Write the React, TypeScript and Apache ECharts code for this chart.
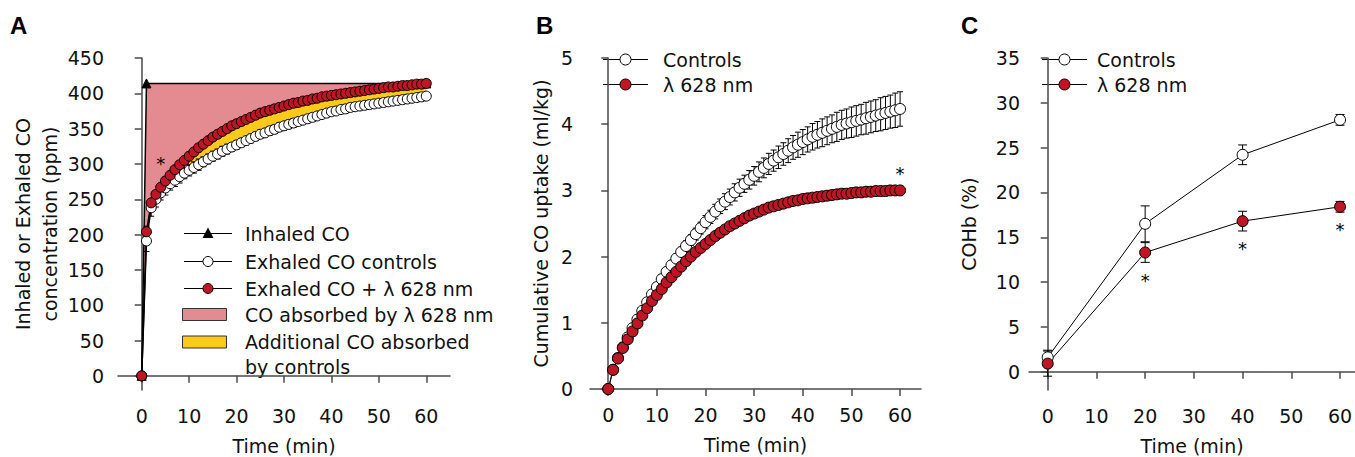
import React, { useEffect, useRef } from "react";
import * as echarts from "echarts";

// ---------- DATA ----------
const minutes = [
  0, 1, 2, 3, 4, 5, 6, 7, 8, 9,
  10, 11, 12, 13, 14, 15, 16, 17, 18, 19,
  20, 21, 22, 23, 24, 25, 26, 27, 28, 29,
  30, 31, 32, 33, 34, 35, 36, 37, 38, 39,
  40, 41, 42, 43, 44, 45, 46, 47, 48, 49,
  50, 51, 52, 53, 54, 55, 56, 57, 58, 59, 60,
];

// Panel A (ppm)
const inhaledTime = [0, 1, 60];
const inhaledCO = [0, 414, 414];
const exhaledControlsA = [
  0, 191, 238, 250, 259, 266, 272, 277, 282, 287,
  291, 295, 299, 303, 307, 311, 314, 318, 321, 324,
  327, 330, 333, 336, 339, 342, 344, 347, 349, 352,
  354, 356, 358, 360, 362, 364, 366, 368, 370, 372,
  374, 375, 377, 378, 380, 381, 382, 383, 384, 385,
  386, 387, 388, 389, 390, 391, 392, 393, 394, 395, 396,
];
const exhaledControlsAErr = [
  0, 15, 12, 11, 10, 10, 9, 9, 9, 8,
  8, 8, 8, 7, 7, 7, 7, 7, 7, 6,
  6, 6, 6, 6, 6, 6, 6, 6, 6, 6,
  6, 6, 6, 5, 5, 5, 5, 5, 5, 5,
  5, 5, 5, 5, 5, 5, 5, 5, 5, 5,
  5, 5, 5, 5, 5, 5, 5, 5, 5, 5, 5,
];
const exhaled628A = [
  0, 204, 245, 257, 267, 276, 284, 292, 299, 305,
  311, 317, 323, 328, 333, 338, 342, 346, 350, 354,
  357, 360, 363, 366, 369, 372, 374, 376, 378, 380,
  382, 384, 386, 387, 389, 390, 392, 393, 395, 396,
  397, 398, 399, 400, 401, 402, 403, 404, 405, 406,
  407, 408, 409, 409, 410, 411, 411, 412, 413, 413, 414,
];
const exhaled628AErr = [
  0, 8, 6, 5, 5, 5, 4, 4, 4, 4,
  4, 4, 4, 4, 4, 4, 4, 4, 4, 4,
  4, 4, 4, 4, 4, 4, 4, 4, 4, 4,
  4, 4, 4, 4, 4, 4, 4, 4, 4, 4,
  4, 4, 4, 4, 4, 4, 4, 4, 4, 4,
  4, 4, 4, 4, 4, 4, 4, 4, 4, 4, 4,
];

// Panel B (ml/kg)
const uptakeControls = [
  0, 0.29, 0.47, 0.63, 0.78, 0.92, 1.05, 1.18, 1.31, 1.43,
  1.54, 1.66, 1.77, 1.87, 1.97, 2.07, 2.16, 2.25, 2.34, 2.43,
  2.52, 2.6, 2.68, 2.76, 2.83, 2.9, 2.97, 3.04, 3.1, 3.16,
  3.22, 3.28, 3.34, 3.4, 3.45, 3.5, 3.55, 3.6, 3.65, 3.69,
  3.73, 3.77, 3.81, 3.84, 3.87, 3.9, 3.93, 3.96, 3.99, 4.01,
  4.03, 4.05, 4.07, 4.09, 4.11, 4.13, 4.15, 4.17, 4.19, 4.21, 4.23,
];
const uptakeControlsErr = [
  0, 0.01, 0.02, 0.02, 0.03, 0.03, 0.03, 0.04, 0.04, 0.04,
  0.05, 0.05, 0.06, 0.06, 0.07, 0.07, 0.08, 0.08, 0.09, 0.09,
  0.1, 0.1, 0.11, 0.11, 0.12, 0.12, 0.13, 0.13, 0.13, 0.14,
  0.14, 0.15, 0.15, 0.16, 0.16, 0.17, 0.17, 0.18, 0.18, 0.19,
  0.19, 0.19, 0.2, 0.2, 0.21, 0.21, 0.21, 0.22, 0.22, 0.22,
  0.23, 0.23, 0.23, 0.24, 0.24, 0.24, 0.25, 0.25, 0.25, 0.26, 0.26,
];
const uptake628 = [
  0, 0.29, 0.46, 0.62, 0.75, 0.87, 0.99, 1.11, 1.22, 1.33,
  1.42, 1.51, 1.61, 1.69, 1.77, 1.85, 1.93, 2.0, 2.07, 2.13,
  2.19, 2.25, 2.31, 2.36, 2.41, 2.46, 2.5, 2.54, 2.58, 2.62,
  2.65, 2.68, 2.71, 2.74, 2.76, 2.78, 2.8, 2.82, 2.84, 2.85,
  2.87, 2.88, 2.89, 2.9, 2.91, 2.92, 2.93, 2.94, 2.95, 2.95,
  2.96, 2.97, 2.97, 2.98, 2.98, 2.99, 2.99, 2.99, 3.0, 3.0, 3.0,
];
const uptake628Err = [
  0, 0.01, 0.01, 0.01, 0.02, 0.02, 0.02, 0.02, 0.02, 0.03,
  0.03, 0.03, 0.03, 0.03, 0.03, 0.04, 0.04, 0.04, 0.04, 0.04,
  0.04, 0.04, 0.05, 0.05, 0.05, 0.05, 0.05, 0.05, 0.05, 0.05,
  0.05, 0.05, 0.06, 0.06, 0.06, 0.06, 0.06, 0.06, 0.06, 0.06,
  0.06, 0.06, 0.06, 0.06, 0.07, 0.07, 0.07, 0.07, 0.07, 0.07,
  0.07, 0.07, 0.07, 0.07, 0.07, 0.07, 0.07, 0.07, 0.07, 0.07, 0.07,
];

// Panel C (%)
const cohbTime = [0, 20, 40, 60];
const cohbControls = [1.6, 16.5, 24.2, 28.1];
const cohbControlsErr = [0.8, 2.0, 1.1, 0.6];
const cohb628 = [0.9, 13.3, 16.8, 18.4];
const cohb628Err = [1.4, 1.1, 1.1, 0.6];

// Significance marks [time, value position]
const starsA = [[4, 300]];
const starsB = [[60, 3.26]];
const starsC = [[20, 10.2], [40, 13.8], [60, 15.9]];

// Ticks
const timeTicks = [0, 10, 20, 30, 40, 50, 60];
const ticksA = [0, 50, 100, 150, 200, 250, 300, 350, 400, 450];
const ticksB = [0, 1, 2, 3, 4, 5];
const ticksC = [0, 5, 10, 15, 20, 25, 30, 35];

// ---------- STYLE ----------
const FONT = "DejaVu Sans";
const FS = 19;
const RED = "#BE1622";
const PINK = "#E48A91";
const YELLOW = "#FDC91B";
const AXIS = "#4a4a4a";

const zip2 = (xs: number[], ys: number[]) => xs.map((x, i) => [x, ys[i]]);
const zip3 = (xs: number[], ys: number[], es: number[]) =>
  xs.map((x, i) => [x, ys[i], es[i]]);

function errRender(cap: number) {
  return (params: any, api: any) => {
    const x = api.value(0);
    const y = api.value(1);
    const e = api.value(2);
    if (!e) return null;
    const top = api.coord([x, y + e]);
    const bot = api.coord([x, y - e]);
    const style = { stroke: "#000", lineWidth: 1, fill: "none" };
    return {
      type: "group",
      children: [
        { type: "line", shape: { x1: top[0], y1: top[1], x2: bot[0], y2: bot[1] }, style },
        { type: "line", shape: { x1: top[0] - cap, y1: top[1], x2: top[0] + cap, y2: top[1] }, style },
        { type: "line", shape: { x1: bot[0] - cap, y1: bot[1], x2: bot[0] + cap, y2: bot[1] }, style },
      ],
    };
  };
}

function starRender(params: any, api: any) {
  const p = api.coord([api.value(0), api.value(1)]);
  return {
    type: "text",
    x: p[0],
    y: p[1],
    style: {
      text: "*",
      fontSize: 18,
      fontFamily: FONT,
      fill: "#000",
      stroke: "none",
      align: "center",
      verticalAlign: "middle",
    },
  };
}

function starSeries(i: number, data: number[][]) {
  return {
    type: "custom",
    xAxisIndex: i,
    yAxisIndex: i,
    data,
    renderItem: starRender,
    itemStyle: { color: "#000" },
    z: 4,
    silent: true,
  };
}

function xAxisCfg(gridIndex: number, min: number, max: number) {
  return {
    type: "value",
    gridIndex,
    min,
    max,
    name: "Time (min)",
    nameLocation: "middle",
    nameGap: 46,
    nameTextStyle: { fontFamily: FONT, fontSize: FS, color: "#111" },
    axisLine: { show: true, lineStyle: { color: AXIS, width: 1.5 } },
    axisTick: { show: true, length: 7, lineStyle: { color: AXIS, width: 1.5 }, customValues: timeTicks },
    axisLabel: { fontFamily: FONT, fontSize: FS, color: "#111", margin: 16, customValues: timeTicks },
    splitLine: { show: false },
  };
}

function yAxisCfg(
  gridIndex: number,
  min: number,
  max: number,
  ticks: number[],
  name: string,
  nameGap: number,
  labelMargin: number
) {
  return {
    type: "value",
    gridIndex,
    min,
    max,
    name,
    nameLocation: "middle",
    nameGap,
    nameTextStyle: { fontFamily: FONT, fontSize: FS, color: "#111", lineHeight: 27 },
    axisLine: { show: true, lineStyle: { color: AXIS, width: 1.5 } },
    axisTick: { show: true, length: 7, lineStyle: { color: AXIS, width: 1.5 }, customValues: ticks },
    axisLabel: { fontFamily: FONT, fontSize: FS, color: "#111", margin: labelMargin, customValues: ticks },
    splitLine: { show: false },
  };
}

function lineSeries(
  xi: number,
  data: number[][],
  fill: string,
  size: number,
  symbol = "circle",
  lineWidth = 1
) {
  return {
    type: "line",
    xAxisIndex: xi,
    yAxisIndex: xi,
    data,
    symbol,
    symbolSize: size,
    showSymbol: true,
    showAllSymbol: true,
    lineStyle: { color: "#000", width: lineWidth },
    itemStyle: { color: fill, borderColor: "#000", borderWidth: 1 },
    emphasis: { disabled: true },
    z: 3,
  };
}

function legendText(x: number, y: number, text: string) {
  return {
    type: "text",
    x,
    y,
    style: { text, fontFamily: FONT, fontSize: FS, fill: "#111", verticalAlign: "middle", align: "left" },
  };
}
function legendLineMarker(x1: number, x2: number, y: number, fill: string, r: number) {
  return [
    { type: "line", shape: { x1, y1: y, x2, y2: y }, style: { stroke: "#000", lineWidth: 1 } },
    { type: "circle", shape: { cx: (x1 + x2) / 2, cy: y, r }, style: { fill, stroke: "#000", lineWidth: 1 } },
  ];
}

export default function App() {
  const ref = useRef<HTMLDivElement>(null);

  useEffect(() => {
    document.body.style.margin = "0";
    if (!ref.current) return;
    const chart = echarts.init(ref.current, undefined, { renderer: "svg" });

    const option: any = {
      animation: false,
      backgroundColor: "#fff",
      grid: [
        { left: 118, top: 58, width: 332, height: 332, outerBoundsMode: "none", containLabel: false },
        { left: 590, top: 58, width: 331, height: 331, outerBoundsMode: "none", containLabel: false },
        { left: 1029, top: 58, width: 326, height: 332, outerBoundsMode: "none", containLabel: false },
      ],
      xAxis: [xAxisCfg(0, -5, 65), xAxisCfg(1, -3.75, 64.3), xAxisCfg(2, -3.84, 63.07)],
      yAxis: [
        yAxisCfg(0, -20, 450, ticksA, "Inhaled or Exhaled CO\nconcentration (ppm)", 54, 14),
        yAxisCfg(1, 0, 5, ticksB, "Cumulative CO uptake (ml/kg)", 36, 17),
        yAxisCfg(2, -2.04, 35, ticksC, "COHb (%)", 47, 9),
      ],
      series: [
        // ---- Panel A fills ----
        {
          type: "custom",
          xAxisIndex: 0,
          yAxisIndex: 0,
          data: [[0, 0]],
          z: 1,
          silent: true,
          renderItem: (params: any, api: any) => {
            const pts: number[][] = [];
            inhaledTime.forEach((t, i) => pts.push(api.coord([t, inhaledCO[i]])));
            for (let i = minutes.length - 1; i >= 0; i--) pts.push(api.coord([minutes[i], exhaled628A[i]]));
            return { type: "polygon", shape: { points: pts }, style: { fill: PINK } };
          },
        },
        {
          type: "custom",
          xAxisIndex: 0,
          yAxisIndex: 0,
          data: [[0, 0]],
          z: 1,
          silent: true,
          renderItem: (params: any, api: any) => {
            const pts: number[][] = [];
            minutes.forEach((t, i) => pts.push(api.coord([t, exhaled628A[i]])));
            for (let i = minutes.length - 1; i >= 0; i--) pts.push(api.coord([minutes[i], exhaledControlsA[i]]));
            return { type: "polygon", shape: { points: pts }, style: { fill: YELLOW } };
          },
        },
        // inhaled
        lineSeries(0, zip2(inhaledTime, inhaledCO), "#000", 9, "triangle", 1.5),
        // error bars A
        {
          type: "custom",
          xAxisIndex: 0,
          yAxisIndex: 0,
          data: zip3(minutes, exhaledControlsA, exhaledControlsAErr),
          renderItem: errRender(3),
          z: 2,
          silent: true,
        },
        lineSeries(0, zip2(minutes, exhaledControlsA), "#fff", 10, "circle", 1.5),
        {
          type: "custom",
          xAxisIndex: 0,
          yAxisIndex: 0,
          data: zip3(minutes, exhaled628A, exhaled628AErr),
          renderItem: errRender(3),
          z: 2,
          silent: true,
        },
        lineSeries(0, zip2(minutes, exhaled628A), RED, 10, "circle", 1.5),
        starSeries(0, starsA),

        // ---- Panel B ----
        {
          type: "custom",
          xAxisIndex: 1,
          yAxisIndex: 1,
          data: zip3(minutes, uptakeControls, uptakeControlsErr),
          renderItem: errRender(3),
          z: 2,
          silent: true,
        },
        lineSeries(1, zip2(minutes, uptakeControls), "#fff", 11),
        {
          type: "custom",
          xAxisIndex: 1,
          yAxisIndex: 1,
          data: zip3(minutes, uptake628, uptake628Err),
          renderItem: errRender(3),
          z: 2,
          silent: true,
        },
        lineSeries(1, zip2(minutes, uptake628), RED, 11),
        starSeries(1, starsB),

        // ---- Panel C ----
        {
          type: "custom",
          xAxisIndex: 2,
          yAxisIndex: 2,
          data: zip3(cohbTime, cohbControls, cohbControlsErr),
          renderItem: errRender(4.5),
          z: 2,
          silent: true,
        },
        lineSeries(2, zip2(cohbTime, cohbControls), "#fff", 11),
        {
          type: "custom",
          xAxisIndex: 2,
          yAxisIndex: 2,
          data: zip3(cohbTime, cohb628, cohb628Err),
          renderItem: errRender(4.5),
          z: 2,
          silent: true,
        },
        lineSeries(2, zip2(cohbTime, cohb628), RED, 11),
        starSeries(2, starsC),
      ],
      graphic: [
        // panel letters
        { type: "text", x: 10, y: 13, style: { text: "A", fontFamily: "Liberation Sans", fontWeight: "bold", fontSize: 24, fill: "#000" } },
        { type: "text", x: 536, y: 13, style: { text: "B", fontFamily: "Liberation Sans", fontWeight: "bold", fontSize: 24, fill: "#000" } },
        { type: "text", x: 961, y: 13, style: { text: "C", fontFamily: "Liberation Sans", fontWeight: "bold", fontSize: 24, fill: "#000" } },
        // legend A
        { type: "line", shape: { x1: 184, y1: 233.5, x2: 232, y2: 233.5 }, style: { stroke: "#000", lineWidth: 1 } },
        { type: "polygon", shape: { points: [[208, 227.5], [202.5, 238], [213.5, 238]] }, style: { fill: "#000" } },
        legendText(245, 234, "Inhaled CO"),
        ...legendLineMarker(184, 232, 261.5, "#fff", 5),
        legendText(245, 262, "Exhaled CO controls"),
        ...legendLineMarker(184, 232, 288.5, RED, 5),
        legendText(245, 289, "Exhaled CO + λ 628 nm"),
        { type: "rect", shape: { x: 182.5, y: 308.5, width: 44, height: 12 }, style: { fill: PINK, stroke: "#333", lineWidth: 1 } },
        legendText(245, 315, "CO absorbed by λ 628 nm"),
        { type: "rect", shape: { x: 182.5, y: 336, width: 44, height: 12 }, style: { fill: YELLOW, stroke: "#333", lineWidth: 1 } },
        legendText(245, 342, "Additional CO absorbed"),
        legendText(245, 367, "by controls"),
        // legend B
        ...legendLineMarker(603, 648, 59.5, "#fff", 5.5),
        legendText(663, 60, "Controls"),
        ...legendLineMarker(603, 648, 84.5, RED, 5.5),
        legendText(663, 85, "λ 628 nm"),
        // legend C
        ...legendLineMarker(1042, 1087, 59.5, "#fff", 5.5),
        legendText(1097, 60, "Controls"),
        ...legendLineMarker(1042, 1087, 84.5, RED, 5.5),
        legendText(1097, 85, "λ 628 nm"),
      ],
    };

    chart.setOption(option);
    return () => chart.dispose();
  }, []);

  return <div ref={ref} style={{ width: 1355, height: 457 }} />;
}
